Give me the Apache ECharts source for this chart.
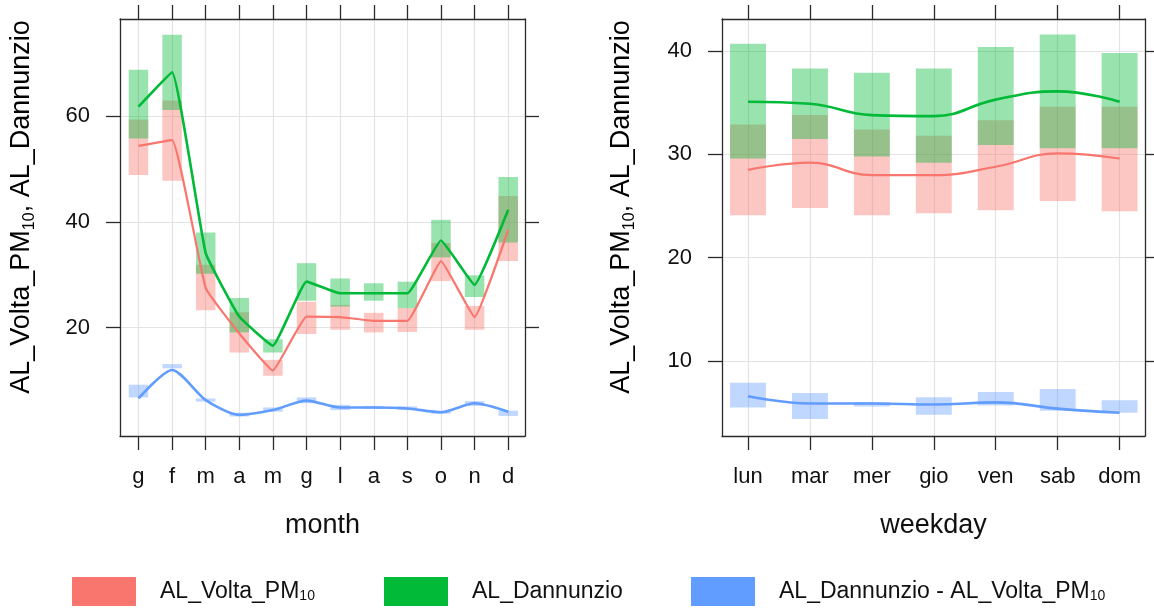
<!DOCTYPE html>
<html><head><meta charset="utf-8">
<script src="https://cdn.jsdelivr.net/npm/echarts@6/dist/echarts.min.js"></script>
<style>html,body{margin:0;padding:0;background:#fff}#c{width:1154px;height:609px}</style>
</head><body><div id="c"></div>
<script>
// ---- data ----
const monthLabels = ['g','f','m','a','m','g','l','a','s','o','n','d'];
const voltaMonth   = [54.4,55.5,27.5,18.9,11.9,22.1,22.0,21.3,21.3,32.6,22.0,38.5];
const voltaMonthLo = [48.9,47.8,23.3,15.3,10.9,18.8,19.6,19.1,19.2,28.8,19.6,32.6];
const voltaMonthHi = [59.4,63.0,31.9,22.9,13.9,24.9,24.3,22.8,23.7,36.0,24.1,44.9];
const dannMonth    = [61.8,68.3,34.1,22.1,16.6,28.7,26.5,26.5,26.5,36.5,28.1,42.3];
const dannMonthLo  = [55.8,61.2,30.2,19.1,15.3,25.1,24.0,25.1,23.7,33.3,25.8,36.1];
const dannMonthHi  = [68.8,75.4,38.0,25.6,17.8,32.2,29.3,28.4,28.7,40.4,29.9,48.5];
const diffMonth    = [6.6,12.0,6.3,3.5,4.4,6.2,4.9,4.9,4.7,4.0,5.7,4.1];
const diffMonthLo  = [6.8,12.3,6.0,3.2,4.1,5.7,4.4,4.6,4.4,3.7,5.2,3.3];
const diffMonthHi  = [9.2,13.1,6.6,3.9,4.9,6.8,5.4,5.2,5.1,4.3,6.1,4.3];

const dayLabels = ['lun','mar','mer','gio','ven','sab','dom'];
const voltaDay   = [28.5,29.2,28.0,28.0,28.8,30.1,29.6];
const voltaDayLo = [24.1,24.8,24.1,24.3,24.6,25.5,24.5];
const voltaDayHi = [32.9,33.8,32.4,31.8,33.3,34.6,34.6];
const dannDay    = [35.1,34.9,33.8,33.7,35.3,36.1,35.1];
const dannDayLo  = [29.6,31.5,29.8,29.2,30.9,30.6,30.6];
const dannDayHi  = [40.7,38.3,37.9,38.3,40.4,41.6,39.8];
const diffDay    = [6.6,5.9,5.9,5.8,6.0,5.4,5.0];
const diffDayLo  = [5.5,4.4,5.6,4.8,5.7,5.2,5.0];
const diffDayHi  = [7.9,6.9,6.05,6.5,7.0,7.3,6.2];

const monthYTicks = [20,40,60];
const dayYTicks = [10,20,30,40];

const seriesNames = ['AL_Volta_PM10','AL_Dannunzio','AL_Dannunzio - AL_Volta_PM10'];
const colors = ['#F8766D','#00BA38','#619CFF'];
const bandColors = ['rgba(248,118,109,0.42)','rgba(0,186,56,0.4)','rgba(97,156,255,0.4)'];

// ---- helpers ----
const FONT = "'Liberation Sans', Arial, sans-serif";
const frame = {color:'#2b2b2b', width:1.3};
function xAxisDef(gi, labels, pos, min, max, showLabel) {
  const vals = labels.map((_, i) => i);
  return {
    type:'value', gridIndex:gi, position:pos, min:min, max:max,
    axisLine:{show:true, onZero:false, lineStyle:frame},
    axisTick:{show:true, inside:false, length:14, customValues:vals, lineStyle:frame},
    axisLabel:{show:showLabel, customValues:vals, margin:30, fontSize:22, fontFamily:FONT, color:'#111',
      formatter:v => labels[Math.round(v)] ?? ''},
    splitLine:{show:showLabel, lineStyle:{color:'#e3e3e3', width:1.2}},
    name: showLabel ? (gi === 0 ? 'month' : 'weekday') : '',
    nameLocation:'middle', nameGap:76,
    nameTextStyle:{fontSize:27, fontFamily:FONT, color:'#111'}
  };
}
function yAxisDef(gi, ticks, pos, min, max, showLabel) {
  return {
    type:'value', gridIndex:gi, position:pos, min:min, max:max,
    axisLine:{show:true, onZero:false, lineStyle:frame},
    axisTick:{show:true, inside:false, length:14, customValues:ticks, lineStyle:frame},
    axisLabel:{show:showLabel, customValues:ticks, margin:30, fontSize:22, fontFamily:FONT, color:'#111'},
    splitLine:{show:showLabel, lineStyle:{color:'#e3e3e3', width:1.2}}
  };
}
function band(k, xi, yi, lo, hi) {
  return {
    type:'custom', name:seriesNames[k], xAxisIndex:xi, yAxisIndex:yi, silent:true, z:1,
    data: lo.map((v, i) => [i, v, hi[i]]),
    encode:{x:0, y:[1,2]},
    renderItem:(params, api) => {
      const x = api.value(0);
      const p1 = api.coord([x - 0.29, api.value(2)]);
      const p2 = api.coord([x + 0.29, api.value(1)]);
      return {type:'rect', shape:{x:p1[0], y:p1[1], width:p2[0]-p1[0], height:p2[1]-p1[1]},
        style:{fill:bandColors[k]}};
    }
  };
}
function line(k, xi, yi, vals, smooth, w) {
  return {
    type:'line', name:seriesNames[k], xAxisIndex:xi, yAxisIndex:yi, z:3,
    data: vals.map((v, i) => [i, v]), smooth:smooth, showSymbol:false, silent:true,
    itemStyle:{color:colors[k]}, lineStyle:{color:colors[k], width:w}
  };
}
const richSub = {
  a:{fontSize:27, fontFamily:FONT, color:'#111'},
  s:{fontSize:16, fontFamily:FONT, color:'#111', verticalAlign:'bottom', padding:[0,0,-2,0]}
};
const yTitle = '{a|AL_Volta_PM}{s|10}{a|, AL_Dannunzio}';

const legendLefts = [67, 379, 686];
function legendDef(k) {
  return {
    left:legendLefts[k], top:572, itemWidth:64, itemHeight:29, icon:'rect',
    selectedMode:false, width:600, orient:'horizontal',
    data:[{name:seriesNames[k], itemStyle:{color:colors[k]}}],
    formatter: n => n.endsWith('PM10') ? '{a|' + n.slice(0, -2) + '}{s|10}' : '{a|' + n + '}',
    textStyle:{
      rich:{
        a:{fontSize:23, fontFamily:FONT, color:'#111', padding:[0,0,0,19]},
        s:{fontSize:14, fontFamily:FONT, color:'#111', verticalAlign:'bottom'}
      }
    }
  };
}

const chart = echarts.init(document.getElementById('c'), null, {renderer:'canvas'});
chart.setOption({
  animation:false,
  backgroundColor:'#fff',
  grid:[
    {left:120, top:19, width:405, height:417},
    {left:722, top:19, width:423, height:417}
  ],
  xAxis:[
    xAxisDef(0, monthLabels, 'bottom', -0.55, 11.5, true),
    xAxisDef(0, monthLabels, 'top', -0.55, 11.5, false),
    xAxisDef(1, dayLabels, 'bottom', -0.42, 6.41, true),
    xAxisDef(1, dayLabels, 'top', -0.42, 6.41, false)
  ],
  yAxis:[
    yAxisDef(0, monthYTicks, 'left', -0.5, 78.4, true),
    yAxisDef(0, monthYTicks, 'right', -0.5, 78.4, false),
    yAxisDef(1, dayYTicks, 'left', 2.75, 43.1, true),
    yAxisDef(1, dayYTicks, 'right', 2.75, 43.1, false)
  ],
  legend:[legendDef(0), legendDef(1), legendDef(2)],
  graphic:[
    {type:'text', x:22, y:207, rotation:Math.PI/2, silent:true,
      style:{text:yTitle, rich:richSub, align:'center', verticalAlign:'middle', fontFamily:FONT}},
    {type:'text', x:622, y:207, rotation:Math.PI/2, silent:true,
      style:{text:yTitle, rich:richSub, align:'center', verticalAlign:'middle', fontFamily:FONT}}
  ],
  series:[
    band(0, 0, 0, voltaMonthLo, voltaMonthHi),
    band(1, 0, 0, dannMonthLo, dannMonthHi),
    band(2, 0, 0, diffMonthLo, diffMonthHi),
    line(0, 0, 0, voltaMonth, 0.1, 2.2),
    line(1, 0, 0, dannMonth, 0.1, 2.6),
    line(2, 0, 0, diffMonth, 0.25, 2.6),
    band(0, 2, 2, voltaDayLo, voltaDayHi),
    band(1, 2, 2, dannDayLo, dannDayHi),
    band(2, 2, 2, diffDayLo, diffDayHi),
    line(0, 2, 2, voltaDay, 0.45, 2.2),
    line(1, 2, 2, dannDay, 0.45, 2.6),
    line(2, 2, 2, diffDay, 0.45, 2.6)
  ]
});
</script>
</body></html>
